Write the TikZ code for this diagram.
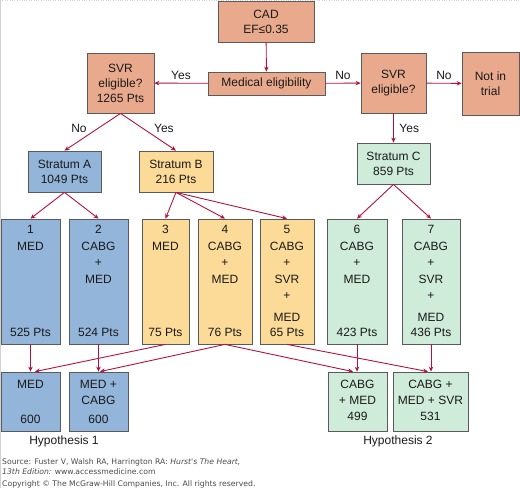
\documentclass[tikz,border=0pt]{standalone}
\usepackage{fontspec}
\setmainfont{Liberation Sans}
\newfontfamily\notefont{DejaVu Sans}
\usepackage{tikz}
\usetikzlibrary{arrows.meta, positioning}
\definecolor{salmon}{HTML}{E9A98C}
\definecolor{steel}{HTML}{93B5DA}
\definecolor{sand}{HTML}{FCDA98}
\definecolor{mint}{HTML}{CFEBDA}
\definecolor{edgegray}{HTML}{5A5A5A}
\definecolor{crimson}{HTML}{B3123F}
\definecolor{notegray}{HTML}{4A4A4A}
\definecolor{textdark}{HTML}{1A1A1A}

\begin{document}
\begin{tikzpicture}[
  x=1pt, y=-1pt,
  box/.style={rectangle, draw=edgegray, line width=0.8pt, fill=salmon,
              align=center, inner sep=0pt, text=textdark,
              font=\fontsize{12}{15}\selectfont},
  armA/.style={box, fill=steel},
  armB/.style={box, fill=sand},
  armC/.style={box, fill=mint},
  armtext/.style={anchor=north, align=center, inner sep=0pt, text=textdark,
                  font=\fontsize{12}{16.5}\selectfont},
  armfoot/.style={anchor=south, align=center, inner sep=0pt, text=textdark,
                  font=\fontsize{12}{15}\selectfont},
  hyptext/.style={armtext, font=\fontsize{12}{16}\selectfont},
  lbl/.style={font=\fontsize{12}{14}\selectfont, inner sep=1pt, text=textdark},
  arrow/.style={-{Stealth[length=5pt, width=4.5pt]}, line width=0.9pt, draw=crimson}
]
  \useasboundingbox (0,0) rectangle (520,488);
  \draw[gray!35, dotted] (0,0.5) -- (520,0.5);
  \draw[gray!35] (0.5,0) -- (0.5,488);

  % screening
  \node[box, minimum width=96pt, minimum height=41pt] (cad) at (266,21.5) {CAD\\EF≤0.35};
  \node[box, minimum width=117pt, minimum height=23pt] (elig) at (266.5,83.5) {Medical eligibility};
  \node[box, minimum width=67pt, minimum height=60pt] (svrL) at (120.5,83) {SVR\\eligible?\\1265 Pts};
  \node[box, minimum width=65pt, minimum height=60pt] (svrR) at (393.5,83) {SVR\\eligible?};
  \node[box, minimum width=57pt, minimum height=63pt] (out) at (490.5,83.5) {Not in\\trial};

  % strata
  \node[armA, minimum width=73pt, minimum height=41pt] (stA) at (64.5,171.5) {Stratum A\\1049 Pts};
  \node[armB, minimum width=74pt, minimum height=41pt] (stB) at (176,171.5) {Stratum B\\216 Pts};
  \node[armC, minimum width=73pt, minimum height=41pt] (stC) at (393.5,163.5) {Stratum C\\859 Pts};

  % treatment arms
  \node[armA, minimum width=59pt, minimum height=125pt] (b1) at (30.5,281.5) {};
  \node[armA, minimum width=59pt, minimum height=125pt] (b2) at (98.5,281.5) {};
  \node[armB, minimum width=47pt, minimum height=125pt] (b3) at (165.5,281.5) {};
  \node[armB, minimum width=54pt, minimum height=125pt] (b4) at (225,281.5) {};
  \node[armB, minimum width=54pt, minimum height=125pt] (b5) at (287,281.5) {};
  \node[armC, minimum width=60pt, minimum height=125pt] (b6) at (357,281.5) {};
  \node[armC, minimum width=58pt, minimum height=125pt] (b7) at (431,281.5) {};

  \node[armtext, yshift=-6.5pt] (t1) at (b1.north) {1\\MED};
  \node[armtext, yshift=-6.5pt] (t2) at (b2.north) {2\\CABG\\+\\MED};
  \node[armtext, yshift=-6.5pt] (t3) at (b3.north) {3\\MED};
  \node[armtext, yshift=-6.5pt] (t4) at (b4.north) {4\\CABG\\+\\MED};
  \node[armtext, yshift=-6.5pt] (t5) at (b5.north) {5\\CABG\\+\\SVR\\+};
  \node[armtext, yshift=-6.5pt] (t6) at (b6.north) {6\\CABG\\+\\MED};
  \node[armtext, yshift=-6.5pt] (t7) at (b7.north) {7\\CABG\\+\\SVR\\+};

  \node[armfoot, yshift=7.7pt] (f1) at (b1.south) {525 Pts};
  \node[armfoot, yshift=7.7pt] (f2) at (b2.south) {524 Pts};
  \node[armfoot, yshift=7.7pt] (f3) at (b3.south) {75 Pts};
  \node[armfoot, yshift=7.7pt] (f4) at (b4.south) {76 Pts};
  \node[armfoot, yshift=7.7pt] (f5) at (b5.south) {MED\\65 Pts};
  \node[armfoot, yshift=7.7pt] (f6) at (b6.south) {423 Pts};
  \node[armfoot, yshift=7.7pt] (f7) at (b7.south) {MED\\436 Pts};

  % hypotheses
  \node[armA, minimum width=59pt, minimum height=59pt] (h1) at (30.5,401.5) {};
  \node[armA, minimum width=59pt, minimum height=59pt] (h2) at (98.5,401.5) {};
  \node[armC, minimum width=59pt, minimum height=59pt] (h3) at (357.5,401.5) {};
  \node[armC, minimum width=75pt, minimum height=59pt] (h4) at (430.5,401.5) {};

  \node[hyptext, yshift=-8.7pt] (ht1) at (h1.north) {MED};
  \node[hyptext, yshift=-8.7pt] (ht2) at (h2.north) {MED +\\CABG};
  \node[hyptext, yshift=-8.7pt] (ht3) at (h3.north) {CABG\\+ MED\\499};
  \node[hyptext, yshift=-8.7pt] (ht4) at (h4.north) {CABG +\\MED + SVR\\531};
  \node[armfoot, yshift=7.7pt] (hf1) at (h1.south) {600};
  \node[armfoot, yshift=7.7pt] (hf2) at (h2.south) {600};

  \node[lbl] (hyp1) at (64,441) {Hypothesis 1};
  \node[lbl] (hyp2) at (398,441) {Hypothesis 2};

  % connectors
  \draw[arrow] (cad) -- (elig);
  \draw[arrow] (elig) -- node[lbl, above=2pt] (yesL) {Yes} (svrL);
  \draw[arrow] (elig) -- node[lbl, above=2pt] (noR) {No} (svrR);
  \draw[arrow] (svrR) -- node[lbl, above=2pt] (noOut) {No} (out);
  \draw[arrow] (svrL.south) -- node[lbl, pos=0.4, left=10pt] (noA) {No} (stA.north);
  \draw[arrow] (svrL.south) -- node[lbl, pos=0.4, right=10pt] (yesB) {Yes} (stB.north);
  \draw[arrow] (svrR) -- node[lbl, right=4.5pt] (yesC) {Yes} (stC);

  \foreach \s/\b in {stA/b1, stA/b2, stB/b3, stB/b4, stB/b5, stC/b6, stC/b7}
    \draw[arrow] (\s.south) -- (\b.north);

  \draw[arrow] (b1.south) -- (b1.south |- h1.north);
  \draw[arrow] (b2.south) -- (b2.south |- h2.north);
  \draw[arrow] (b6.south) -- (b6.south |- h3.north);
  \draw[arrow] (b7.south) -- (b7.south |- h4.north);
  \draw[arrow] (b3.south) -- ([xshift=4.5pt]h1.north);
  \draw[arrow] (b4.south) -- ([xshift=1.5pt]h2.north);
  \draw[arrow] (b4.south) -- ([xshift=-4.5pt]h3.north);
  \draw[arrow] (b5.south) -- ([xshift=-2.5pt]h4.north);

  % source note
  \node[anchor=north west, align=left, inner sep=0pt, text=notegray,
        font=\notefont\fontsize{7.7}{10}\selectfont] (source) at (2,458)
    {Source: Fuster V, Walsh RA, Harrington RA: \textit{Hurst's The Heart,}\\
     \textit{13th Edition:} www.accessmedicine.com};
  \node[anchor=north west, inner sep=0pt, text=notegray,
        font=\notefont\fontsize{7.7}{10}\selectfont] (copyright) at (2,480)
    {Copyright © The McGraw-Hill Companies, Inc. All rights reserved.};
\end{tikzpicture}
\end{document}
